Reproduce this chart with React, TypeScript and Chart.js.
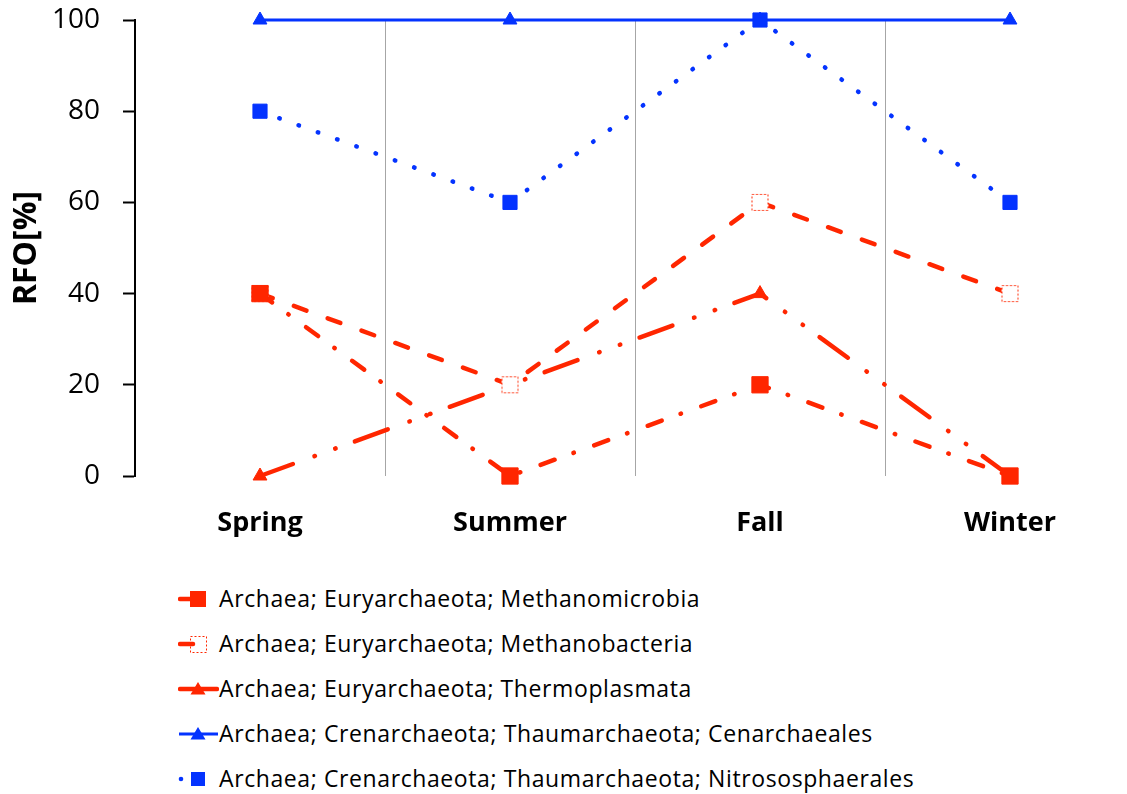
import React, { useEffect, useRef } from "react";
import { Chart, registerables } from "chart.js";

Chart.register(...registerables);

const seasons = ["Spring", "Summer", "Fall", "Winter"];
const seriesNames = [
  "Archaea; Euryarchaeota; Methanomicrobia",
  "Archaea; Euryarchaeota; Methanobacteria",
  "Archaea; Euryarchaeota; Thermoplasmata",
  "Archaea; Crenarchaeota; Thaumarchaeota; Cenarchaeales",
  "Archaea; Crenarchaeota; Thaumarchaeota; Nitrososphaerales",
];
const methanomicrobia = [40, 0, 20, 0];
const methanobacteria = [40, 20, 60, 40];
const thermoplasmata = [0, 20, 40, 0];
const cenarchaeales = [100, 100, 100, 100];
const nitrososphaerales = [80, 60, 100, 60];
const yTicks = { min: 0, max: 100, step: 20 };
const yTitle = "RFO[%]";

const RED = "#FF2600";
const BLUE = "#0433FF";
const FONT = "'Open Sans', 'Noto Sans', sans-serif";

function makeDashedSquare(): HTMLCanvasElement {
  const c = document.createElement("canvas");
  c.width = 19;
  c.height = 19;
  const g = c.getContext("2d")!;
  g.fillStyle = "#fff";
  g.fillRect(1, 1, 17, 17);
  g.strokeStyle = RED;
  g.lineWidth = 1;
  g.setLineDash([2, 2]);
  g.strokeRect(1.5, 1.5, 16, 16);
  return c;
}

function LegendSample({ idx }: { idx: number }) {
  const tri = (color: string) => (
    <polygon points="20,5 27.5,17.5 12.5,17.5" fill={color} />
  );
  let content: React.ReactNode = null;
  if (idx === 0) {
    content = (
      <>
        <line x1={2} y1={12} x2={14} y2={12} stroke={RED} strokeWidth={4.5} strokeLinecap="round" />
        <rect x={12} y={4} width={16} height={16} fill={RED} />
      </>
    );
  } else if (idx === 1) {
    content = (
      <>
        <line x1={2} y1={12} x2={15} y2={12} stroke={RED} strokeWidth={4.5} strokeLinecap="round" />
        <rect x={12.5} y={4.5} width={16} height={16} fill="none" stroke={RED} strokeWidth={1} strokeDasharray="2 2" />
      </>
    );
  } else if (idx === 2) {
    content = (
      <>
        <line x1={2} y1={12} x2={39} y2={12} stroke={RED} strokeWidth={4.5} strokeLinecap="round" />
        {tri(RED)}
      </>
    );
  } else if (idx === 3) {
    content = (
      <>
        <line x1={1} y1={12} x2={40} y2={12} stroke={BLUE} strokeWidth={3} />
        {tri(BLUE)}
      </>
    );
  } else {
    content = (
      <>
        <circle cx={3} cy={12} r={2.3} fill={BLUE} />
        <rect x={13} y={5} width={14} height={14} fill={BLUE} />
      </>
    );
  }
  return (
    <svg width={41} height={24} style={{ display: "block", flex: "0 0 auto" }}>
      {content}
    </svg>
  );
}

export default function App() {
  const ref = useRef<HTMLCanvasElement>(null);

  useEffect(() => {
    if (!ref.current) return;
    const dashedSquare = makeDashedSquare();
    const common = {
      clip: false as const,
      fill: false,
      tension: 0,
      borderCapStyle: "round" as const,
      pointBorderWidth: 1,
    };
    const chart = new Chart(ref.current, {
      type: "line",
      data: {
        labels: seasons,
        datasets: [
          {
            ...common,
            label: seriesNames[0],
            data: methanomicrobia,
            borderColor: RED,
            backgroundColor: RED,
            pointBorderColor: RED,
            borderWidth: 4.5,
            borderDash: [15, 20, 0.5, 21.5],
            pointStyle: "rect",
            pointRadius: 11.5,
            order: 0,
          },
          {
            ...common,
            label: seriesNames[1],
            data: methanobacteria,
            borderColor: RED,
            backgroundColor: RED,
            borderWidth: 4.5,
            borderDash: [13.5, 22.5],
            pointStyle: dashedSquare,
            pointRadius: 9,
            order: 1,
          },
          {
            ...common,
            label: seriesNames[2],
            data: thermoplasmata,
            borderColor: RED,
            backgroundColor: RED,
            pointBorderColor: RED,
            borderWidth: 4.5,
            borderDash: [35, 23, 0.5, 21.5, 0.5, 20.5],
            pointStyle: "triangle",
            pointRadius: 8,
            order: 2,
          },
          {
            ...common,
            label: seriesNames[3],
            data: cenarchaeales,
            borderColor: BLUE,
            backgroundColor: BLUE,
            pointBorderColor: BLUE,
            borderWidth: 3,
            pointStyle: "triangle",
            pointRadius: 8,
            order: 4,
          },
          {
            ...common,
            label: seriesNames[4],
            data: nitrososphaerales,
            borderColor: BLUE,
            backgroundColor: BLUE,
            pointBorderColor: BLUE,
            borderWidth: 4.5,
            borderDash: [0.5, 20],
            pointStyle: "rect",
            pointRadius: 10,
            order: 3,
          },
        ],
      },
      options: {
        responsive: false,
        animation: false,
        devicePixelRatio: 1,
        layout: { autoPadding: false, padding: { top: 12, left: 0, right: 0, bottom: 0 } },
        plugins: {
          legend: { display: false },
          tooltip: { enabled: false },
        },
        scales: {
          x: {
            offset: true,
            grid: {
              offset: true,
              drawTicks: false,
              color: "#a6a6a6",
              lineWidth: 1,
            },
            border: { display: false },
            ticks: {
              color: "#000",
              padding: 31,
              font: { family: FONT, size: 27, weight: "bold" },
            },
            afterFit: (s: any) => {
              s.height = 72;
              s.paddingLeft = 0;
              s.paddingRight = 0;
            },
          },
          y: {
            min: yTicks.min,
            max: yTicks.max,
            ticks: {
              stepSize: yTicks.step,
              color: "#000",
              padding: 23,
              font: { family: FONT, size: 28 },
            },
            grid: {
              drawOnChartArea: false,
              drawTicks: true,
              tickLength: 12,
              tickWidth: 2,
              tickColor: "#000",
            },
            border: { display: true, color: "#000", width: 2 },
            title: {
              display: true,
              text: yTitle,
              color: "#000",
              padding: 0,
              font: { family: FONT, size: 32, weight: "bold" },
            },
            afterFit: (s: any) => {
              s.width = 127;
              s.paddingTop = 0;
              s.paddingBottom = 0;
            },
          },
        },
      },
    });
    return () => chart.destroy();
  }, []);

  return (
    <div>
      <div style={{ width: 1111, height: 540, overflow: "hidden", position: "relative" }}>
        <canvas
          ref={ref}
          width={1127}
          height={540}
          style={{ display: "block", width: 1127, height: 540 }}
        />
      </div>
      <div
        style={{
          marginTop: 28,
          marginLeft: 170,
          fontFamily: FONT,
          fontSize: 23,
          letterSpacing: "0.6px",
          color: "#000",
        }}
      >
        {seriesNames.map((name, i) => (
          <div key={i} style={{ display: "flex", alignItems: "center", height: 45 }}>
            <LegendSample idx={i} />
            <span style={{ lineHeight: "45px", whiteSpace: "nowrap" }}>{name}</span>
          </div>
        ))}
      </div>
    </div>
  );
}
